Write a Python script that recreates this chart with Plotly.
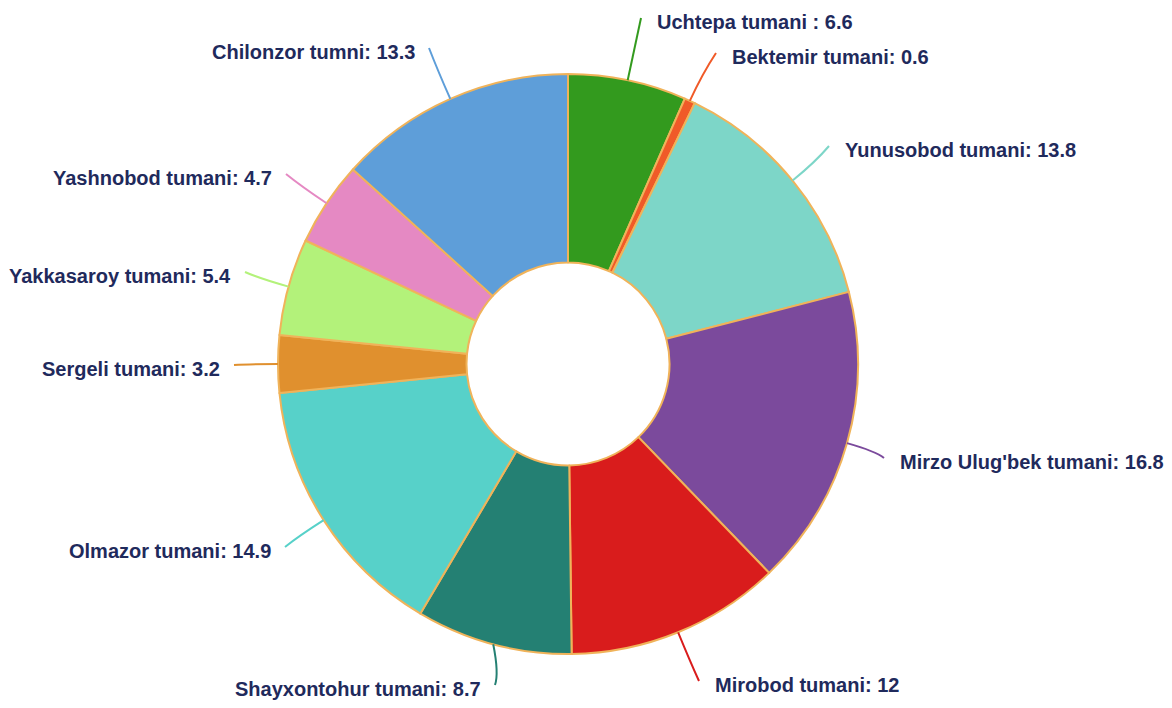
import math
import plotly.graph_objects as go

districts = ["Uchtepa tumani", "Bektemir tumani", "Yunusobod tumani", "Mirzo Ulug'bek tumani",
             "Mirobod tumani", "Shayxontohur tumani", "Olmazor tumani", "Sergeli tumani",
             "Yakkasaroy tumani", "Yashnobod tumani", "Chilonzor tumni"]
shares = [6.6, 0.6, 13.8, 16.8, 12, 8.7, 14.9, 3.2, 5.4, 4.7, 13.3]
label_texts = ["Uchtepa tumani : 6.6", "Bektemir tumani: 0.6", "Yunusobod tumani: 13.8",
               "Mirzo Ulug'bek tumani: 16.8", "Mirobod tumani: 12", "Shayxontohur tumani: 8.7",
               "Olmazor tumani: 14.9", "Sergeli tumani: 3.2", "Yakkasaroy tumani: 5.4",
               "Yashnobod tumani: 4.7", "Chilonzor tumni: 13.3"]
colors = ["#339a1e", "#f05a28", "#7dd6c8", "#7b4a9c", "#d91c1c", "#248073",
          "#57d1c9", "#e0902e", "#b3f27a", "#e589c3", "#5e9ed9"]

OFF = 8  # page body margin
W, H = 1172 - 2 * OFF, 708 - 2 * OFF
CX, CY, R = 568, 364, 290

# label anchors in screen pixels (x, y, side)
label_pos = [(655, 22, "l"), (730, 57, "l"), (843, 150, "l"), (898, 462, "l"),
             (713, 685, "l"), (483, 689, "r"), (273, 551, "r"), (222, 369, "r"),
             (233, 276, "r"), (274, 178, "r"), (417, 52, "r")]


def px(x, y):
    return (x - OFF) / W, 1 - (y - OFF) / H


x0, y1 = px(CX - R, CY - R)
x1, y0 = px(CX + R, CY + R)

fig = go.Figure(go.Pie(
    labels=districts, values=shares, sort=False, direction="clockwise", rotation=0,
    hole=0.35, textinfo="none", hoverinfo="label+value",
    marker=dict(colors=colors, line=dict(color="#f0b35a", width=2)),
    domain=dict(x=[x0, x1], y=[y0, y1]),
))

total = sum(shares)
cum = 0
shapes = []
annotations = []
for v, txt, col, (lx, ly, side) in zip(shares, label_texts, colors, label_pos):
    mid = (cum + v / 2) / total * 2 * math.pi
    cum += v
    sx, sy = CX + R * math.sin(mid), CY - R * math.cos(mid)
    ex = lx - 14 if side == "l" else lx + 12
    ey = ly - 4
    qx, qy = CX + (R + 30) * math.sin(mid), CY - (R + 30) * math.cos(mid)
    if side == "l":
        qx = min(qx, ex - 4)
    else:
        qx = max(qx, ex + 4)
    a, b = px(sx, sy)
    c, d = px(qx, qy)
    e, f = px(ex, ey)
    shapes.append(dict(type="path", xref="paper", yref="paper",
                       path=f"M {a} {b} Q {c} {d} {e} {f}",
                       line=dict(color=col, width=2)))
    tx, ty = px(lx, ly)
    annotations.append(dict(x=tx, y=ty, xref="paper", yref="paper", text="<b>" + txt + "</b>",
                            showarrow=False, xanchor="left" if side == "l" else "right",
                            yanchor="middle",
                            font=dict(family="Liberation Sans, Arial", size=20, color="#1f2a5c")))

fig.update_layout(
    width=W, height=H, margin=dict(l=0, r=0, t=0, b=0),
    showlegend=False, paper_bgcolor="white", plot_bgcolor="white",
    shapes=shapes, annotations=annotations,
    font=dict(family="Liberation Sans, Arial"),
)

fig.write_html("out.html")
